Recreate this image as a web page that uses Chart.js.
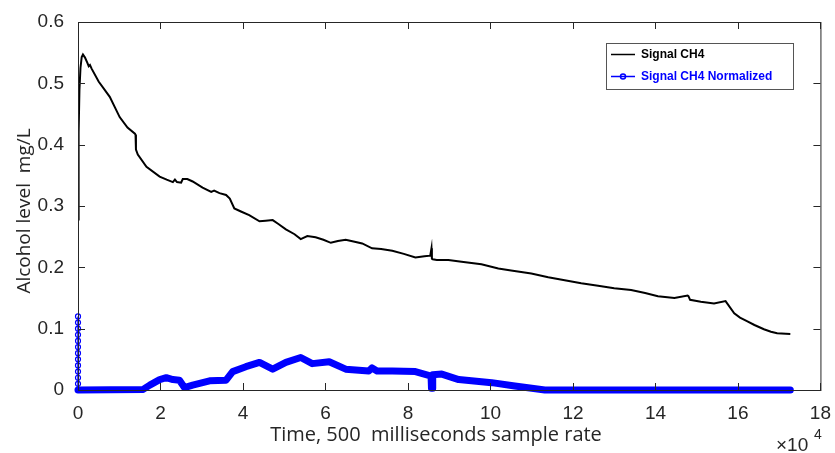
<!DOCTYPE html>
<html>
<head>
<meta charset="utf-8">
<script src="https://cdn.jsdelivr.net/npm/chart.js@4.4.1/dist/chart.umd.min.js"></script>
<style>
  html, body { margin: 0; padding: 0; background: #fff; }
  #wrap { width: 835px; height: 453px; position: relative; }
</style>
</head>
<body>
<div id="wrap"><canvas id="alcChart" width="835" height="453"></canvas></div>
<script>
// sample index (500 ms per sample) and alcohol level
const signalX = [0, 150, 350, 600, 900, 1200, 1700, 2300, 2600, 2900, 3300, 5000, 7700, 10100, 12000, 13800, 13950, 14050, 14500, 16600, 19800, 21500, 23000, 23500, 24000, 25000, 25400, 26500, 27800, 30200, 32300, 33000, 34300, 35900, 36800, 37900, 39500, 41500, 44000, 45500, 47200, 48500, 50400, 52500, 54000, 55600, 57600, 59500, 61300, 63000, 64900, 66800, 68900, 71300, 73500, 76200, 79000, 81800, 84000, 85400, 85700, 85800, 86000, 87000, 89800, 93000, 97800, 101900, 105000, 109900, 114000, 118000, 122000, 126100, 130000, 134100, 137500, 140600, 144600, 147800, 148000, 148400, 151000, 154200, 157000, 159100, 160500, 162300, 164000, 166300, 168000, 169500, 172700];
const signalY = [0.278, 0.42, 0.49, 0.525, 0.543, 0.547, 0.542, 0.533, 0.528, 0.530, 0.524, 0.503, 0.478, 0.445, 0.428, 0.418, 0.416, 0.392, 0.384, 0.364, 0.348, 0.343, 0.339, 0.343, 0.339, 0.338, 0.344, 0.344, 0.340, 0.330, 0.323, 0.325, 0.321, 0.318, 0.312, 0.296, 0.291, 0.285, 0.275, 0.276, 0.277, 0.271, 0.262, 0.254, 0.246, 0.251, 0.249, 0.245, 0.240, 0.243, 0.245, 0.242, 0.239, 0.231, 0.230, 0.227, 0.222, 0.216, 0.218, 0.219, 0.231, 0.214, 0.213, 0.212, 0.212, 0.209, 0.205, 0.198, 0.195, 0.190, 0.184, 0.179, 0.174, 0.170, 0.166, 0.163, 0.158, 0.153, 0.150, 0.154, 0.153, 0.147, 0.144, 0.141, 0.145, 0.125, 0.118, 0.112, 0.106, 0.099, 0.095, 0.0925, 0.0915];

const normX = [0, 15800, 17400, 19800, 21400, 23000, 24600, 25800, 27800, 31900, 35900, 37500, 40700, 44000, 47200, 50400, 54000, 56800, 60900, 64900, 70500, 71300, 72500, 76200, 81800, 85000, 85600, 85700, 85900, 86000, 88200, 92300, 100300, 105900, 113200, 172700];
const normY = [0, 0.001, 0.008, 0.017, 0.020, 0.017, 0.016, 0.004, 0.008, 0.015, 0.016, 0.030, 0.038, 0.045, 0.034, 0.045, 0.053, 0.043, 0.046, 0.034, 0.031, 0.036, 0.031, 0.031, 0.030, 0.024, 0.022, 0.003, 0.003, 0.025, 0.026, 0.017, 0.012, 0.0065, 0, 0];

// circles stacked on the y axis at the very start of the normalized series
const spikeY = [0.12, 0.11, 0.10, 0.09, 0.08, 0.07, 0.06, 0.05, 0.04, 0.03, 0.02, 0.01, 0];

const xTicks = [0, 2, 4, 6, 8, 10, 12, 14, 16, 18];
const yTicks = [0, 0.1, 0.2, 0.3, 0.4, 0.5, 0.6];

const xTitle = 'Time, 500  milliseconds sample rate';
const yTitle = 'Alcohol level  mg/L';
const seriesNames = ['Signal CH4', 'Signal CH4 Normalized'];

const axisColor = '#262626';
const blue = '#0000ff';

const framePlugin = {
  id: 'frame',
  afterDraw(chart) {
    const ctx = chart.ctx;
    const a = chart.chartArea;
    const xs = chart.scales.x, ys = chart.scales.y;
    ctx.save();
    ctx.strokeStyle = axisColor;
    ctx.lineWidth = 1;
    ctx.strokeRect(a.left + 0.5, a.top + 0.5, a.right - a.left, a.bottom - a.top);
    ctx.beginPath();
    xs.ticks.forEach(t => {
      const px = Math.round(xs.getPixelForValue(t.value)) + 0.5;
      ctx.moveTo(px, a.bottom); ctx.lineTo(px, a.bottom - 7);
      ctx.moveTo(px, a.top); ctx.lineTo(px, a.top + 7);
    });
    ys.ticks.forEach(t => {
      const py = Math.round(ys.getPixelForValue(t.value)) + 0.5;
      ctx.moveTo(a.left, py); ctx.lineTo(a.left + 7, py);
      ctx.moveTo(a.right, py); ctx.lineTo(a.right - 7, py);
    });
    ctx.stroke();

    // axis titles
    ctx.fillStyle = axisColor;
    ctx.font = '20px "Open Sans"';
    ctx.textAlign = 'center';
    ctx.textBaseline = 'middle';
    ctx.fillText(xTitle, 436, 435);
    ctx.save();
    ctx.translate(25, 211);
    ctx.rotate(-Math.PI / 2);
    ctx.font = '19px "Open Sans"';
    ctx.fillText(yTitle, 0, 0);
    ctx.restore();

    // exponent label
    ctx.textAlign = 'left';
    ctx.textBaseline = 'alphabetic';
    ctx.font = '19px "Liberation Sans"';
    ctx.fillText('\u00d710', 776, 451);
    ctx.font = '14px "Liberation Sans"';
    ctx.fillText('4', 814, 439);

    // legend
    const lx = 606, ly = 43, lw = 187, lh = 46;
    ctx.fillStyle = '#fff';
    ctx.fillRect(lx, ly, lw, lh);
    ctx.strokeStyle = '#555';
    ctx.strokeRect(lx + 0.5, ly + 0.5, lw, lh);
    ctx.lineWidth = 1.5;
    ctx.strokeStyle = '#000';
    ctx.beginPath(); ctx.moveTo(611, 54.5); ctx.lineTo(635, 54.5); ctx.stroke();
    ctx.strokeStyle = blue;
    ctx.beginPath(); ctx.moveTo(611, 76.5); ctx.lineTo(635, 76.5); ctx.stroke();
    ctx.beginPath(); ctx.arc(623, 76.5, 2.5, 0, Math.PI * 2); ctx.stroke();
    ctx.font = 'bold 12px "Liberation Sans"';
    ctx.textBaseline = 'middle';
    ctx.fillStyle = '#000';
    ctx.fillText(seriesNames[0], 641, 55);
    ctx.fillStyle = blue;
    ctx.fillText(seriesNames[1], 641, 77);
    ctx.restore();
  }
};

const ctx = document.getElementById('alcChart').getContext('2d');
new Chart(ctx, {
  type: 'line',
  data: {
    datasets: [
      {
        label: seriesNames[0],
        data: signalX.map((x, i) => ({ x: x, y: signalY[i] })),
        borderColor: '#000',
        borderWidth: 2,
        pointRadius: 0,
        tension: 0
      },
      {
        label: seriesNames[1],
        data: normX.map((x, i) => ({ x: x, y: normY[i] })),
        borderColor: blue,
        borderWidth: 7,
        borderCapStyle: 'round',
        borderJoinStyle: 'round',
        pointRadius: 0,
        tension: 0,
        clip: 8
      },
      {
        label: 'spike',
        data: spikeY.map(y => ({ x: 0, y: y })),
        borderColor: blue,
        borderWidth: 1.5,
        pointRadius: 2.5,
        pointBorderWidth: 1.2,
        pointBorderColor: blue,
        pointBackgroundColor: 'rgba(0,0,0,0)',
        clip: 8
      }
    ]
  },
  options: {
    responsive: false,
    animation: false,
    layout: { padding: { top: 22, right: 12, left: 0, bottom: 0 } },
    plugins: { legend: { display: false }, tooltip: { enabled: false } },
    scales: {
      x: {
        type: 'linear',
        min: 0,
        max: 180000,
        afterFit(scale) { scale.height = 63; },
        afterBuildTicks(scale) { scale.ticks = xTicks.map(v => ({ value: v * 10000 })); },
        grid: { display: false },
        border: { display: false },
        ticks: {
          color: axisColor,
          font: { family: 'Liberation Sans', size: 19 },
          padding: 4,
          maxRotation: 0,
          callback: v => String(v / 10000)
        }
      },
      y: {
        min: 0,
        max: 0.6,
        afterFit(scale) { scale.width = 78; },
        afterBuildTicks(scale) { scale.ticks = yTicks.map(v => ({ value: v })); },
        grid: { display: false },
        border: { display: false },
        ticks: {
          color: axisColor,
          font: { family: 'Liberation Sans', size: 19 },
          padding: 6,
          callback: v => (v === 0 ? '0' : v.toFixed(1))
        }
      }
    }
  },
  plugins: [framePlugin]
});
</script>
</body>
</html>
